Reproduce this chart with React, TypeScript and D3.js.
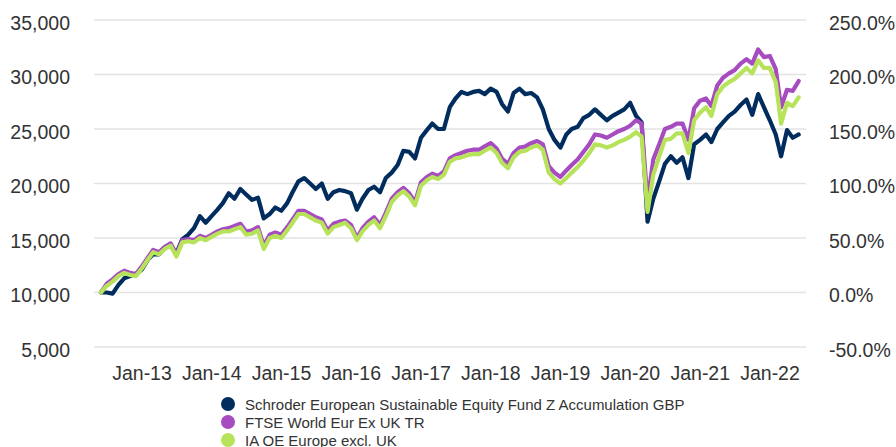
import React from "react";
import * as d3 from "d3";

// month-end dates, May 2012 .. May 2022
const months: Date[] = d3.range(121).map((i) => new Date(2012, 5 + i, 0));

const schroder = [
  10000, 10000, 9900, 10700, 11300, 11500, 11700, 12100, 13000, 13500,
  13500, 14100, 14300, 13600, 14900, 15300, 15900, 17000, 16400, 17000,
  17600, 18200, 19100, 18600, 19500, 19000, 18500, 18700, 16800, 17200,
  17800, 17500, 18200, 19200, 20200, 20500, 20000, 19500, 20000, 18600,
  19200, 19400, 19300, 19100, 17600, 18600, 19400, 19700, 19200, 20500,
  21000, 21700, 23000, 22900, 22300, 24200, 24900, 25500, 25000, 25000,
  27000, 27800, 28400, 28200, 28400, 28500, 28200, 28700, 28400, 27300,
  26600, 28300, 28700, 28200, 28300, 27900, 26800, 25000, 24000, 23300,
  24500, 25000, 25200, 26000, 26300, 26800, 26300, 25800, 26200, 26500,
  26800, 27400, 26200, 25600, 16500, 18600, 20200, 21800, 22500, 21900,
  22400, 20500, 23600, 24000, 24500, 23800, 25000, 25600, 26200, 26600,
  27200, 27700, 26300, 28200, 27000, 25800, 24500, 22500, 24900, 24200,
  24500,
];

const ftse = [
  10000, 10800, 11200, 11700, 12000, 11800, 11700, 12400, 13200, 13900,
  13700, 14200, 14500, 13500, 14800, 14900, 14800, 15200, 15000, 15300,
  15600, 15800, 15900, 16100, 16300, 15600, 15700, 16000, 14300, 15300,
  15500, 15300, 16000, 16700, 17500, 17500, 17200, 16900, 16700, 15700,
  16300, 16500, 16600, 16200, 15000, 15900, 16500, 16900, 16200, 17300,
  18600, 19200, 19600, 19100, 18300, 20100, 20600, 20900, 20700, 21100,
  22300, 22600, 22800, 23000, 23100, 23100, 23400, 23700, 23200, 22300,
  21800, 22800, 23300, 23400, 23700, 23900, 23600, 21600, 21000, 20600,
  21200, 21700, 22200, 22900, 23600, 24500, 24400, 24200, 24500, 24800,
  25000, 25300, 25800, 25500, 18300, 22200, 23600, 25000, 25200, 25500,
  25500, 24000, 26900, 27600, 27800, 27100, 29000, 29700, 30100, 30400,
  31000, 31400, 31000, 32300, 31600, 31700, 30500, 27000, 28600, 28500,
  29400,
];

const iaEurope = [
  10000, 10600, 11000, 11500, 11800, 11600, 11500, 12200, 13000, 13700,
  13500, 14000, 14300, 13300, 14600, 14700, 14600, 15000, 14800, 15100,
  15400, 15600, 15600, 15800, 16000, 15300, 15400, 15700, 14000, 15000,
  15200, 15000, 15700, 16400, 17200, 17200, 16900, 16600, 16400, 15400,
  16000, 16200, 16400, 15900, 14800, 15600, 16200, 16600, 15900, 17000,
  18300, 18900, 19300, 18800, 18000, 19800, 20300, 20600, 20400, 20800,
  22000, 22300, 22400, 22600, 22700, 22700, 23000, 23300, 22800, 21900,
  21400, 22400, 22900, 23000, 23300, 23500, 23100, 21000, 20400, 20000,
  20500, 21000, 21500, 22100, 22800, 23600, 23500, 23300, 23500, 23800,
  24000, 24300, 24700, 24300, 17400, 20800, 22500, 24000, 24100, 24600,
  24600, 22800, 25800, 26500, 27000, 26200, 28200, 28900, 29300, 29600,
  30100, 30600, 30100, 31300, 30600, 30600, 29300, 25500, 27400, 27100,
  27900,
];

const seriesNames = [
  "Schroder European Sustainable Equity Fund Z Accumulation GBP",
  "FTSE World Eur Ex UK TR",
  "IA OE Europe excl. UK",
];
const seriesColors = ["#002d5e", "#a64bc0", "#b7e35a"];
const seriesValues = [schroder, ftse, iaEurope];

const leftTicks = [5000, 10000, 15000, 20000, 25000, 30000, 35000];
const rightTicks = [-50, 0, 50, 100, 150, 200, 250];

const W = 896;
const H = 447;
const FONT = "'Liberation Sans', Arial, sans-serif";

export default function App() {
  const x = d3
    .scaleTime()
    .domain([new Date(2013, 0, 1), new Date(2022, 0, 1)])
    .range([142, 770]);
  const y = d3.scaleLinear().domain([5000, 35000]).range([347, 20]);
  const yRight = d3.scaleLinear().domain([-50, 250]).range([347, 20]);

  const xTicks = x.ticks(d3.timeYear.every(1));
  const fmtDate = d3.timeFormat("%b-%y");
  const fmtLeft = d3.format(",");
  const fmtRight = (v: number) => v.toFixed(1) + "%";

  const line = d3
    .line<number>()
    .x((d, i) => x(months[i]))
    .y((d) => y(d));

  return (
    <svg
      width={W}
      height={H}
      style={{ position: "absolute", left: 0, top: 0, background: "#fff" }}
      fontFamily={FONT}
    >
      <g className="grid">
        {leftTicks.map((t) => (
          <line
            key={t}
            x1={94}
            x2={806}
            y1={y(t)}
            y2={y(t)}
            stroke="#e3e3e3"
            strokeWidth={1.5}
          />
        ))}
      </g>
      <g className="yAxisLeft" fontSize={19.5} fill="#333" textAnchor="end">
        {leftTicks.map((t) => (
          <text key={t} x={70} y={y(t) + 9.5}>
            {fmtLeft(t)}
          </text>
        ))}
      </g>
      <g className="yAxisRight" fontSize={19.5} fill="#333" textAnchor="start">
        {rightTicks.map((t) => (
          <text key={t} x={829} y={yRight(t) + 9.5}>
            {fmtRight(t)}
          </text>
        ))}
      </g>
      <g className="xAxis" fontSize={19.5} fill="#333" textAnchor="middle">
        {xTicks.map((t) => (
          <text key={+t} x={x(t)} y={380}>
            {fmtDate(t)}
          </text>
        ))}
      </g>
      <g className="lines">
        {seriesValues.map((vals, k) => (
          <path
            key={k}
            d={line(vals) || ""}
            fill="none"
            stroke={seriesColors[k]}
            strokeWidth={4.2}
            strokeLinejoin="round"
            strokeLinecap="round"
          />
        ))}
      </g>
      <g className="legend" fontSize={15} fill="#333">
        {seriesNames.map((n, k) => (
          <g key={n} transform={`translate(0, ${404 + k * 18})`}>
            <circle cx={228} cy={0} r={7} fill={seriesColors[k]} />
            <text x={245} y={5.5}>
              {n}
            </text>
          </g>
        ))}
      </g>
    </svg>
  );
}
